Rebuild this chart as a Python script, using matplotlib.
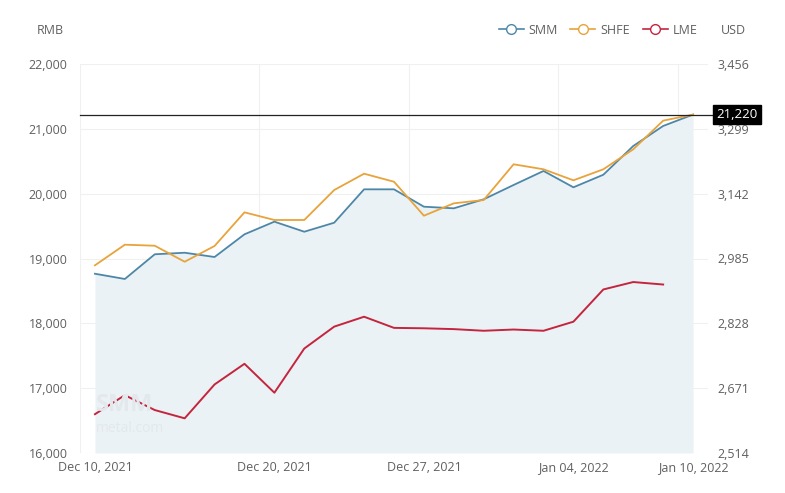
import matplotlib.pyplot as plt
from matplotlib.axes import Axes
from matplotlib.lines import Line2D
import numpy as np

# Trading days shown on the category axis
dates = [
    "Dec 10, 2021", "Dec 13, 2021", "Dec 14, 2021", "Dec 15, 2021", "Dec 16, 2021",
    "Dec 17, 2021", "Dec 20, 2021", "Dec 21, 2021", "Dec 22, 2021", "Dec 23, 2021",
    "Dec 24, 2021", "Dec 27, 2021", "Dec 28, 2021", "Dec 29, 2021", "Dec 30, 2021",
    "Dec 31, 2021", "Jan 04, 2022", "Jan 05, 2022", "Jan 06, 2022", "Jan 07, 2022",
    "Jan 10, 2022",
]
tick_dates = ["Dec 10, 2021", "Dec 20, 2021", "Dec 27, 2021", "Jan 04, 2022", "Jan 10, 2022"]

# RMB series (left axis)
smm = [
    18765, 18684, 19065, 19089, 19023, 19373, 19568, 19413, 19552, 20067,
    20067, 19799, 19774, 19913, 20134, 20350, 20098, 20292, 20735, 21044,
    21220,
]
shfe = [
    18895, 19213, 19197, 18950, 19193, 19712, 19594, 19594, 20056, 20308,
    20184, 19660, 19851, 19902, 20453, 20376, 20206, 20376, 20684, 21126,
    21220,
]
# USD series (right axis), no value yet for the last day
lme = [
    2608, 2654, 2618, 2598, 2680, 2730, 2660, 2767, 2820, 2844,
    2817, 2816, 2814, 2810, 2813, 2810, 2832, 2910, 2928, 2922,
    np.nan,
]

rmb_ticks = [16000, 17000, 18000, 19000, 20000, 21000, 22000]
usd_ticks = [2514, 2671, 2828, 2985, 3142, 3299, 3456]
last_price = 21220

C_SMM = "#4d87a8"
C_SHFE = "#e8a33b"
C_LME = "#c4253e"
C_FILL = "#ebf2f6"
C_GRID = "#f0f0f0"
C_TEXT = "#606060"

plt.rcParams["font.family"] = ["Open Sans", "DejaVu Sans"]


def style_axis(ax: Axes) -> None:
    """Hide spines and tick marks, keep only the labels."""
    for spine in ax.spines.values():
        spine.set_visible(False)
    ax.tick_params(length=0, labelsize=9, colors=C_TEXT)


fig = plt.figure(figsize=(7.85, 4.93), dpi=100)
ax = fig.add_axes((80 / 785, 40 / 493, 628 / 785, 389 / 493))
ax2 = ax.twinx()

x = np.arange(len(dates))

# Grid: horizontal at each RMB tick, vertical at category boundaries
for v in rmb_ticks:
    ax.axhline(v, color=C_GRID, lw=0.8, zorder=0)
for d in tick_dates[1:]:
    ax.axvline(dates.index(d) - 0.5, color=C_GRID, lw=0.8, zorder=0)
ax.axvline(-0.5, color=C_GRID, lw=0.8, zorder=0)
ax.axvline(len(dates) - 0.5, color=C_GRID, lw=0.8, zorder=0)

ax.fill_between(x, smm, rmb_ticks[0], color=C_FILL, lw=0, zorder=1)
ax.plot(x, smm, color=C_SMM, lw=1.3, zorder=3)
ax.plot(x, shfe, color=C_SHFE, lw=1.3, zorder=3)
ax2.plot(x, lme, color=C_LME, lw=1.4, zorder=3)

ax.set_xlim(-0.5, len(dates) - 0.5)
ax.set_ylim(rmb_ticks[0], rmb_ticks[-1])
ax2.set_ylim(usd_ticks[0], usd_ticks[-1])
ax.set_yticks(rmb_ticks, [f"{v:,}" for v in rmb_ticks])
ax2.set_yticks(usd_ticks, [f"{v:,}" for v in usd_ticks])
ax.set_xticks([dates.index(d) for d in tick_dates], tick_dates)
style_axis(ax)
style_axis(ax2)
ax.tick_params(axis="y", pad=9)
ax2.tick_params(axis="y", pad=7)
ax.tick_params(axis="x", pad=6)

# Watermark
fig.text(96 / 785, 1 - 405 / 493, "SMM", fontsize=17, fontweight="bold",
         color="#e2e8ec", va="center", ha="left", zorder=0.5)
fig.text(96 / 785, 1 - 428 / 493, "metal.com", fontsize=10,
         color="#e2e8ec", va="center", ha="left", zorder=0.5)

# Latest price line and tag
ax.axhline(last_price, xmin=0, xmax=1.006, color="#222222", lw=0.9,
           clip_on=False, zorder=4)
ax.annotate(f"{last_price:,}", xy=(1.046, last_price),
            xycoords=("axes fraction", "data"), ha="center", va="center",
            fontsize=9.5, color="white", annotation_clip=False, zorder=5,
            bbox=dict(boxstyle="square,pad=0.25", fc="black", ec="black"))

# Unit labels
fig.text(50 / 785, 1 - 31 / 493, "RMB", fontsize=9, color=C_TEXT,
         ha="center", va="center")
fig.text(733 / 785, 1 - 31 / 493, "USD", fontsize=9, color=C_TEXT,
         ha="center", va="center")

handles = [
    Line2D([], [], color=c, lw=1.2, marker="o", markersize=7,
           markerfacecolor="white", markeredgecolor=c)
    for c in (C_SMM, C_SHFE, C_LME)
]
fig.legend(handles, ["SMM", "SHFE", "LME"], loc="center",
           bbox_to_anchor=(598 / 785, 1 - 30 / 493), ncol=3, frameon=False,
           fontsize=9, handlelength=2.0, handletextpad=0.4, columnspacing=1.0,
           labelcolor=C_TEXT)

fig.savefig("out.png", dpi=100, facecolor="white")
